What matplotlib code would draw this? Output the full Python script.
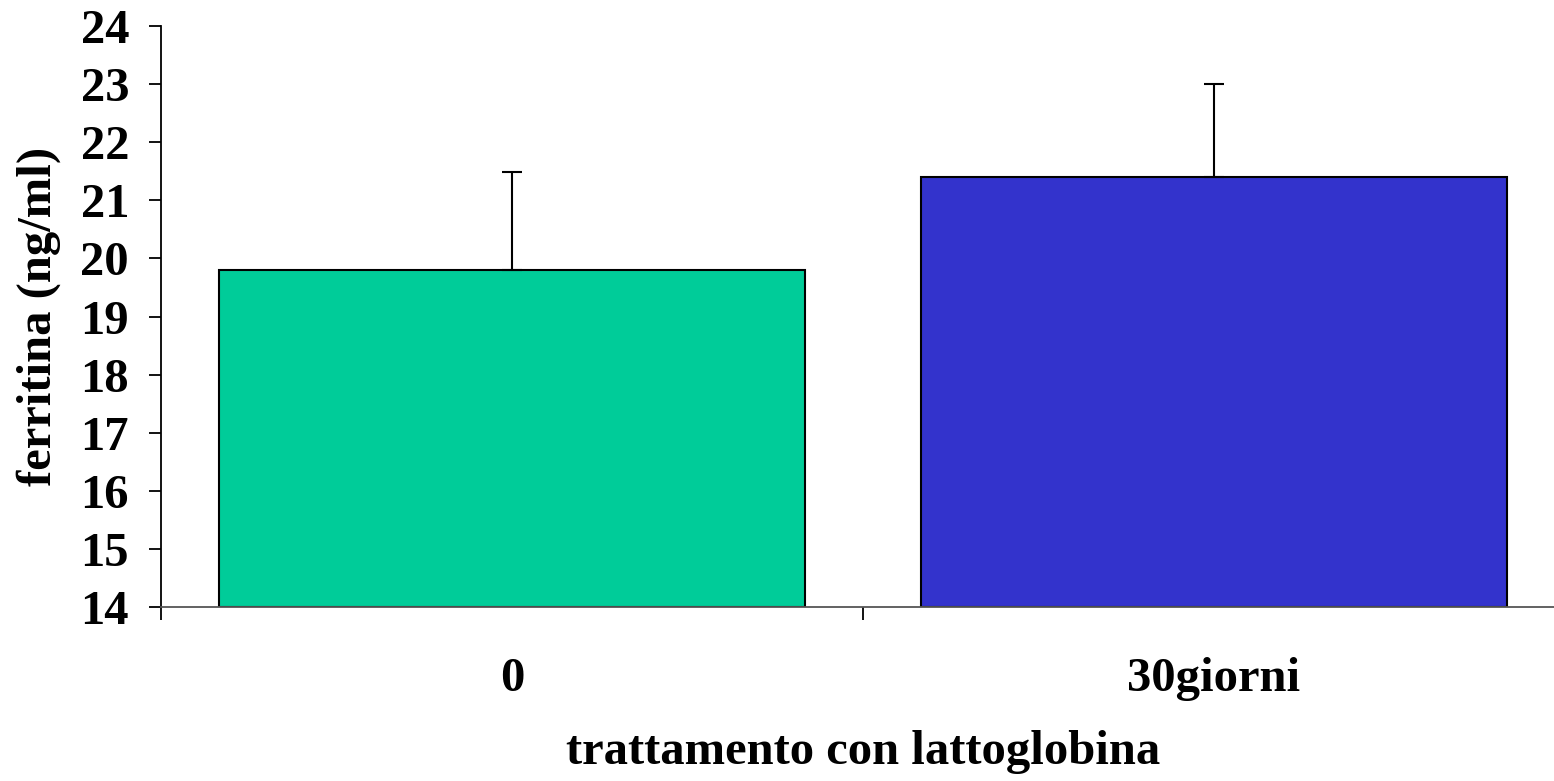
import matplotlib
matplotlib.use("Agg")
import matplotlib.pyplot as plt
from matplotlib.ticker import FixedLocator

# data
categories = ["0", "30giorni"]
ferritina = [19.8, 21.4]
errori = [1.68, 1.6]
colori = ["#00CC99", "#3333CC"]
y_ticks = list(range(14, 25))

plt.rcParams["font.family"] = ["Liberation Serif", "DejaVu Serif"]
plt.rcParams["font.weight"] = "bold"

fig = plt.figure(figsize=(15.54, 7.81), dpi=100)
ax = fig.add_axes([161 / 1554, 174 / 781, (1565 - 161) / 1554, (755 - 174) / 781])

x = list(range(len(categories)))
ax.bar(x, [v - 14 for v in ferritina], bottom=14, width=0.836, color=colori,
       edgecolor="black", linewidth=1.5, zorder=2)
ax.errorbar(x, ferritina, yerr=[[0, 0], errori], fmt="none", ecolor="black",
            elinewidth=1.5, capsize=7.5, capthick=1.5, zorder=3)

ax.set_xlim(-0.5, 1.5)
ax.set_ylim(14, 24)
ax.set_yticks(y_ticks)
ax.set_xticks(x)
ax.set_xticklabels(categories)
ax.xaxis.set_minor_locator(FixedLocator([-0.5, 0.5, 1.5]))

ax.spines["top"].set_visible(False)
ax.spines["right"].set_visible(False)
ax.spines["left"].set_linewidth(1.3)
ax.spines["bottom"].set_linewidth(1.3)
ax.spines["bottom"].set_color("#555555")

ax.tick_params(axis="y", direction="out", length=9, width=1.3, pad=14, labelsize=35)
ax.tick_params(axis="x", which="major", length=0, pad=36, labelsize=35)
ax.tick_params(axis="x", which="minor", direction="out", length=9, width=1.3)

for lab in ax.get_xticklabels() + ax.get_yticklabels():
    lab.set_fontweight("bold")

ax.set_xlabel("trattamento con lattoglobina", fontsize=35, fontweight="bold", labelpad=21)
ax.set_ylabel("ferritina (ng/ml)", fontsize=35, fontweight="bold", labelpad=14)

fig.savefig("out.png", dpi=100)
